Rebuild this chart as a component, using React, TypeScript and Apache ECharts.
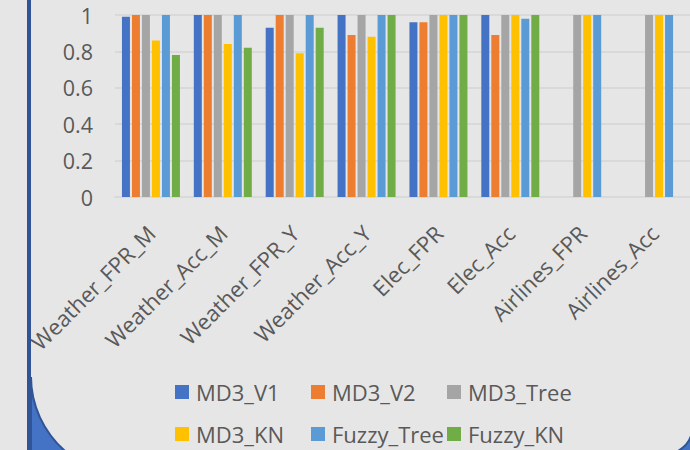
import React, { useEffect, useRef } from "react";
import * as echarts from "echarts";

const categories = [
  "Weather_FPR_M",
  "Weather_Acc_M",
  "Weather_FPR_Y",
  "Weather_Acc_Y",
  "Elec_FPR",
  "Elec_Acc",
  "Airlines_FPR",
  "Airlines_Acc",
];

const seriesNames = ["MD3_V1", "MD3_V2", "MD3_Tree", "MD3_KN", "Fuzzy_Tree", "Fuzzy_KN"];

const md3V1 = [0.99, 1, 0.93, 1, 0.96, 1, null, null];
const md3V2 = [1, 1, 1, 0.89, 0.96, 0.89, null, null];
const md3Tree = [1, 1, 1, 1, 1, 1, 1, 1];
const md3KN = [0.86, 0.84, 0.79, 0.88, 1, 1, 1, 1];
const fuzzyTree = [1, 1, 1, 1, 1, 0.98, 1, 1];
const fuzzyKN = [0.78, 0.82, 0.93, 1, 1, 1, null, null];

const seriesValues = [md3V1, md3V2, md3Tree, md3KN, fuzzyTree, fuzzyKN];
const colors = ["#4472C4", "#ED7D31", "#A5A5A5", "#FFC000", "#5B9BD5", "#70AD47"];

const yTicks = { min: 0, max: 1, interval: 0.2 };

echarts.graphic.registerShape(
  "cornerL",
  echarts.graphic.extendPath("M31,377 C31,405 43.4,431.8 65,451 L31,451 Z", {})
);
echarts.graphic.registerShape(
  "cornerR",
  echarts.graphic.extendPath("M691,436 C689,442 685,447 678,451 L691,451 Z", {})
);

const FONT = "Open Sans";
const TEXT = "#595959";

export default function App() {
  const ref = useRef<HTMLDivElement>(null);
  useEffect(() => {
    if (!ref.current) return;
    const chart = echarts.init(ref.current, null, { renderer: "svg" });
    const legendPos = [
      [175, 381],
      [311, 381],
      [447, 381],
      [175, 423],
      [311, 423],
      [447, 423],
    ];
    chart.setOption({
      animation: false,
      backgroundColor: "#E7E6E6",
      textStyle: { fontFamily: FONT },
      grid: { left: 115, top: 15, width: 584, height: 182, containLabel: false },
      legend: seriesNames.map((n, i) => ({
        data: [n],
        left: legendPos[i][0],
        top: legendPos[i][1],
        padding: 0,
        itemWidth: 14,
        itemHeight: 14,
        icon: "rect",
        selectedMode: false,
        textStyle: {
          fontSize: 22,
          lineHeight: 22,
          color: TEXT,
          fontFamily: FONT,
          padding: [0, 0, 0, 2],
        },
      })),
      xAxis: {
        type: "category",
        data: categories,
        axisLine: { lineStyle: { color: "#D9D9D9", width: 2 } },
        axisTick: { show: false },
        axisLabel: {
          rotate: 45,
          interval: 0,
          margin: 32,
          fontSize: 22,
          color: TEXT,
          fontFamily: FONT,
        },
      },
      yAxis: {
        type: "value",
        min: yTicks.min,
        max: yTicks.max,
        interval: yTicks.interval,
        axisLine: { show: false },
        axisTick: { show: false },
        splitLine: { lineStyle: { color: "#D9D9D9", width: 2 } },
        axisLabel: { fontSize: 21.5, color: TEXT, margin: 22, fontFamily: FONT },
      },
      series: seriesNames.map((n, i) => ({
        name: n,
        type: "bar",
        data: seriesValues[i],
        barWidth: 8,
        barGap: "25%",
        itemStyle: { color: colors[i] },
      })),
      graphic: [
        {
          type: "rect",
          shape: { x: 27, y: 0, width: 4, height: 450 },
          style: { fill: "#2F5597" },
          z: 10,
        },
        {
          type: "cornerL",
          style: { fill: "#4472C4", stroke: "#2F5597", lineWidth: 2 },
          z: 11,
        },
        {
          type: "cornerR",
          style: { fill: "#4472C4", stroke: "#2F5597", lineWidth: 2 },
          z: 11,
        },
      ],
    });
    return () => chart.dispose();
  }, []);
  return (
    <div
      ref={ref}
      style={{ position: "fixed", left: 0, top: 0, width: 690, height: 450 }}
    />
  );
}
